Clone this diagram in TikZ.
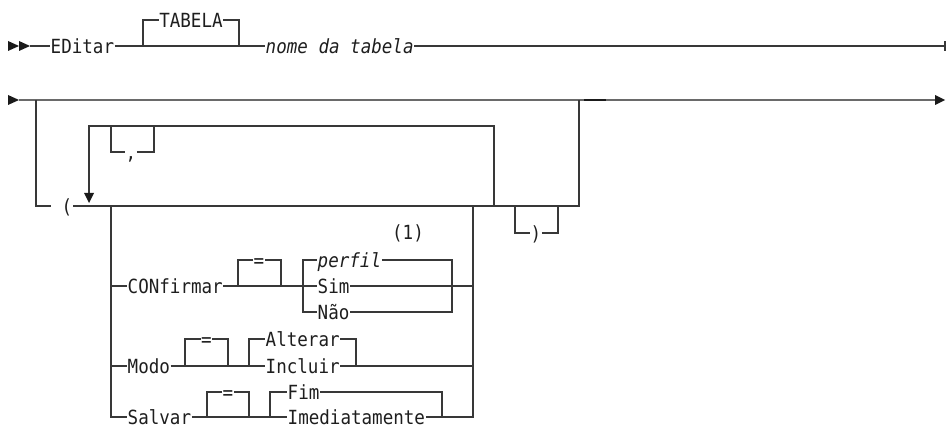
\documentclass[tikz,border=0pt]{standalone}
\usepackage{fontspec}
\setmainfont{DejaVu Sans Mono}[FakeStretch=0.9]
\definecolor{linec}{HTML}{383838}
\definecolor{mainc}{HTML}{6A6A6A}
\definecolor{darkc}{HTML}{1A1A1A}
\definecolor{textc}{HTML}{1E1E1E}
\tikzset{
  rr/.style={draw=linec, line width=1.5pt},
  mainline/.style={draw=mainc, line width=1.6pt},
  tip/.style={fill=darkc},
  lbl/.style={inner sep=0pt, inner xsep=0.5pt, text height=15pt, text depth=0.8pt,
    font=\fontsize{19.5}{22}\selectfont, text=textc},
  kw/.style={lbl, anchor=west},
  var/.style={lbl, anchor=west, font=\fontsize{19.5}{22}\selectfont\itshape},
}
\begin{document}
\begin{tikzpicture}[x=1pt, y=-1pt]
\useasboundingbox (0,0) rectangle (946,425);

% ---------- first line: EDitar [TABELA] nome da tabela ----------
\fill[tip] (8,41) -- (19,46) -- (8,51) -- cycle;
\fill[tip] (19,41) -- (30,46) -- (19,51) -- cycle;
\coordinate (s1) at (30,46);
\node[kw] (editar) at (50,46) {EDitar};
\coordinate (t1l) at (143,46);
\coordinate (t1r) at (239,46);
\node[lbl] (tabela) at (191,20) {TABELA};
\node[var] (nome) at (265,46) {nome da tabela};
\coordinate (e1) at (945,46);
\draw[rr] (s1) -- (editar.west);
\draw[rr] (editar.east) -- (t1l) -- (t1r) -- (nome.west);
\draw[rr] (t1l) |- (tabela.west);
\draw[rr] (tabela.east) -| (t1r);
\draw[rr] (nome.east) -- (e1);
\draw[rr] ([yshift=-5pt]e1) -- ([yshift=5pt]e1);

% ---------- second line ----------
\fill[tip] (8,95) -- (19,100) -- (8,105) -- cycle;
\coordinate (s2) at (19,100);
\coordinate (j2a) at (36,100);
\coordinate (j2b) at (579,100);
\coordinate (e2) at (936,100);
\draw[mainline] (s2) -- (e2);
\fill[tip] (935,95) -- (945,100) -- (935,105) -- cycle;
\coordinate (dk1) at (584,100);
\coordinate (dk2) at (606,100);
\draw[draw=darkc, line width=1.7pt] (dk1) -- (dk2);

% optional parenthesised list
\node[lbl, anchor=east] (lp) at (73,206) {(};
\draw[rr] (j2a) |- ([xshift=-10.4pt]lp.west);
\coordinate (g1) at (111,206);
\coordinate (g2) at (473,206);
\coordinate (r1) at (494,206);
\coordinate (p1) at (515,206);
\coordinate (p2) at (558,206);
\coordinate (b2) at (579,206);
\draw[rr] (lp.east) -- (r1) -- (b2) -- (j2b);

% repeat loop with comma separator
\coordinate (rt1) at (89,126);
\coordinate (rt2) at (494,126);
\coordinate (arr) at (89,193);
\draw[rr] (arr) -- (rt1) -- (rt2) -- (r1);
\fill[tip] (84,193) -- (94,193) -- (89,203) -- cycle;
\coordinate (c1) at (111,126);
\coordinate (c2) at (154,126);
\node[lbl] (comma) at (131,152) {,};
\draw[rr] (c1) |- (comma.west);
\draw[rr] (comma.east) -| (c2);

% optional closing parenthesis
\node[lbl] (rp) at (536,233) {)};
\draw[rr] (p1) |- (rp.west);
\draw[rr] (rp.east) -| (p2);

% ---------- choice group ----------
\coordinate (g2b) at (473,417);

% CONfirmar
\node[kw] (conf) at (127,286) {CONfirmar};
\coordinate (q1l) at (238,286);
\coordinate (q1r) at (281,286);
\coordinate (ch1) at (303,286);
\coordinate (cr1) at (452,286);
\node[lbl] (eq1) at (259,260) {=};
\node[var] (perfil) at (317,260) {perfil};
\node[kw] (sim) at (317,286) {Sim};
\node[kw] (nao) at (317,312) {Não};
\node[lbl] (note) at (408,232) {(1)};
\draw[rr] (g1 |- conf) -- (conf.west);
\draw[rr] (conf.east) -- (q1l) -- (q1r) -- (ch1) -- (sim.west);
\draw[rr] (q1l) |- (eq1.west);
\draw[rr] (eq1.east) -| (q1r);
\draw[rr] (perfil.west) -- (ch1 |- perfil) -- (ch1 |- nao) -- (nao.west);
\draw[rr] (perfil.east) -- (cr1 |- perfil) -- (cr1 |- nao) -- (nao.east);
\draw[rr] (sim.east) -- (g2 |- sim);

% Modo
\node[kw] (modo) at (127,366) {Modo};
\coordinate (q2l) at (185,366);
\coordinate (q2r) at (228,366);
\coordinate (ch2) at (249,366);
\coordinate (cr2) at (356,366);
\node[lbl] (eq2) at (206.5,339) {=};
\node[kw] (alterar) at (265,339) {Alterar};
\node[kw] (incluir) at (265,366) {Incluir};
\draw[rr] (g1 |- modo) -- (modo.west);
\draw[rr] (modo.east) -- (q2l) -- (q2r) -- (ch2) -- (incluir.west);
\draw[rr] (q2l) |- (eq2.west);
\draw[rr] (eq2.east) -| (q2r);
\draw[rr] (ch2) |- (alterar.west);
\draw[rr] (alterar.east) -| (cr2);
\draw[rr] (incluir.east) -- (g2 |- incluir);

% Salvar
\node[kw] (salvar) at (127,417) {Salvar};
\coordinate (q3l) at (207,417);
\coordinate (q3r) at (249,417);
\coordinate (ch3) at (270,417);
\coordinate (cr3) at (442,417);
\node[lbl] (eq3) at (228,392) {=};
\node[kw] (fim) at (287,392) {Fim};
\node[kw] (imed) at (287,417) {Imediatamente};
\draw[rr] (g1) |- (salvar.west);
\draw[rr] (salvar.east) -- (q3l) -- (q3r) -- (ch3) -- (imed.west);
\draw[rr] (q3l) |- (eq3.west);
\draw[rr] (eq3.east) -| (q3r);
\draw[rr] (ch3) |- (fim.west);
\draw[rr] (fim.east) -| (cr3);
\draw[rr] (imed.east) -- (g2b) -- (g2);
\end{tikzpicture}
\end{document}
